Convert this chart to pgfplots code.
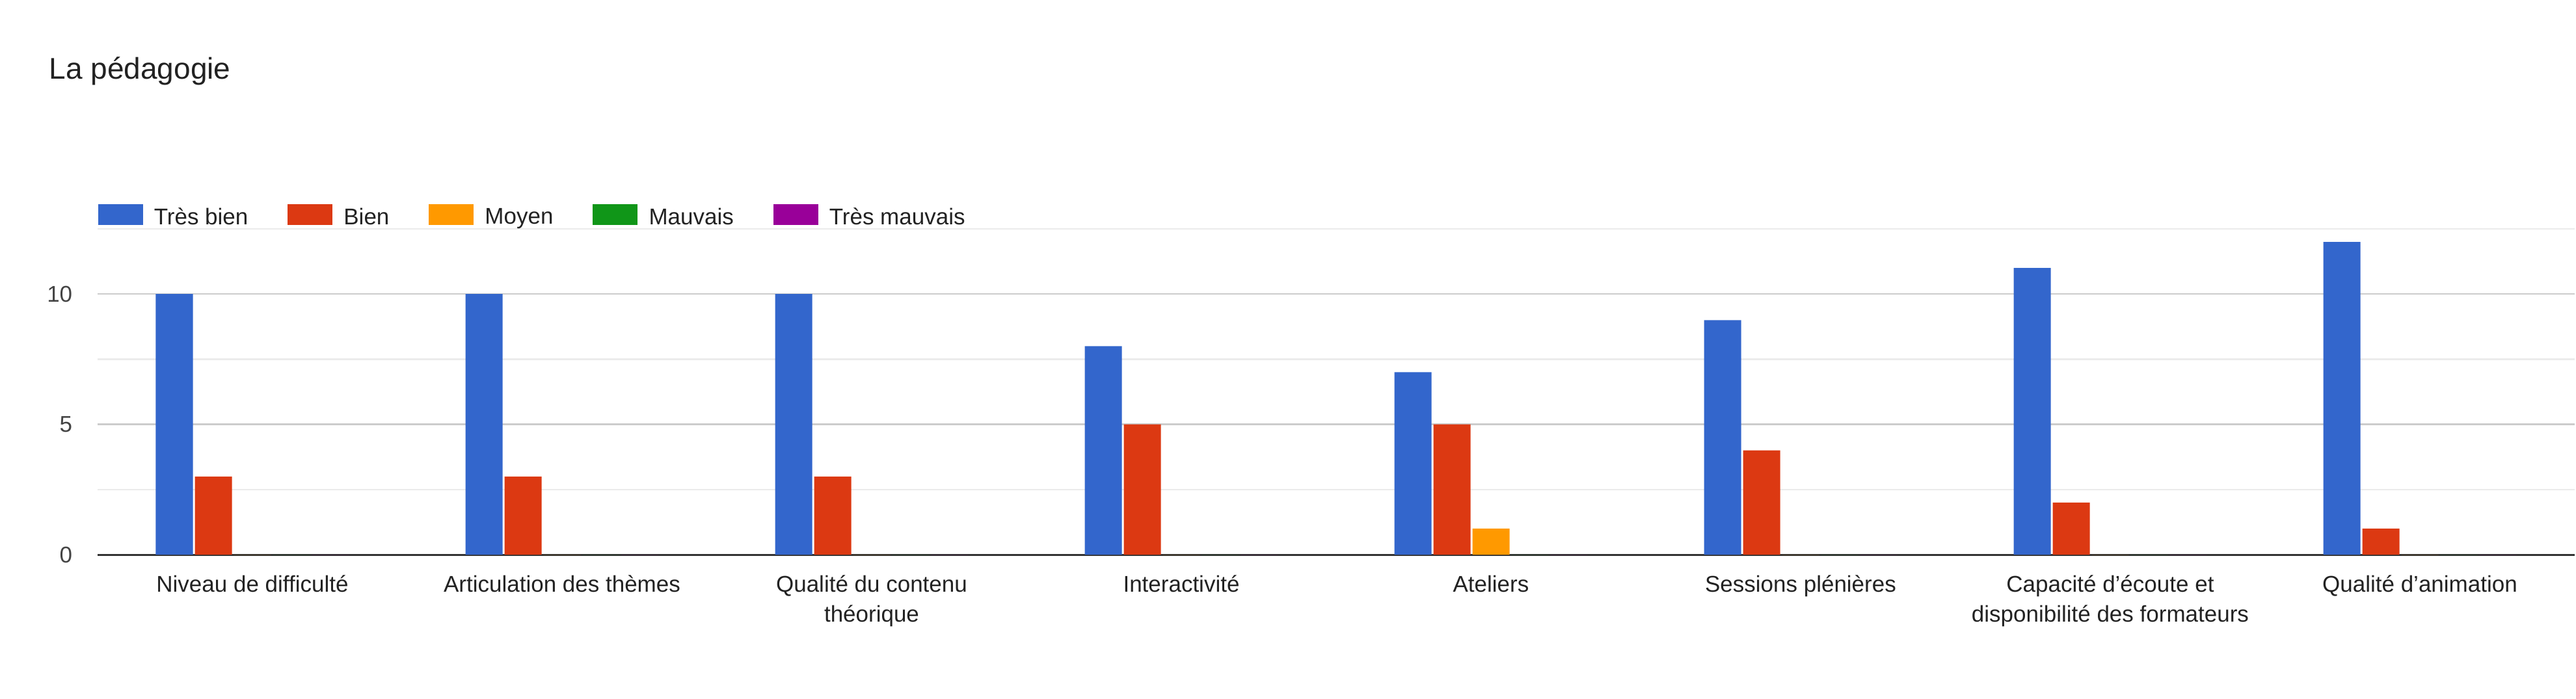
\documentclass[border=0pt]{standalone}
\usepackage{fontspec}
\setmainfont{Liberation Sans}
\usepackage{pgfplots}
\usepackage{pgfplotstable}
\pgfplotsset{compat=1.18}

\definecolor{c1}{HTML}{3366CC}
\definecolor{c2}{HTML}{DC3912}
\definecolor{c3}{HTML}{FF9900}
\definecolor{c4}{HTML}{109618}
\definecolor{c5}{HTML}{990099}
\definecolor{gridmaj}{HTML}{CCCCCC}
\definecolor{gridmin}{HTML}{EBEBEB}
\definecolor{axisc}{HTML}{333333}
\definecolor{txt}{HTML}{222222}
\definecolor{ticktxt}{HTML}{444444}

% x: categorie, tb = Tres bien, b = Bien, m = Moyen, mv = Mauvais, tm = Tres mauvais
\pgfplotstableread{
x tb b m mv tm
0 10 3 0 0 0
1 10 3 0 0 0
2 10 3 0 0 0
3 8  5 0 0 0
4 7  5 1 0 0
5 9  4 0 0 0
6 11 2 0 0 0
7 12 1 0 0 0
}\data

\pgfplotsset{legbox/.style={legend image code/.code={\fill[##1] (0pt,-2.75pt) rectangle (17.25pt,5.25pt);}}}

\begin{document}
\begin{tikzpicture}
\useasboundingbox (0,0) rectangle (990pt,268.5pt);
\node[anchor=base west, inner sep=0pt, text=txt, font=\fontsize{11.5}{13}\selectfont] at (18.75pt,238.25pt) {La pédagogie};
\begin{axis}[
    at={(37.5pt,55.25pt)}, anchor=south west,
    scale only axis, width=952pt, height=125.25pt,
    xmin=-0.5, xmax=7.5, ymin=0, ymax=12.5,
    ybar=0.75pt, bar width=14.25pt,
    xtick={0,...,7},
    xticklabels={{Niveau de difficulté},{Articulation des thèmes},{Qualité du contenu\\théorique},{Interactivité},{Ateliers},{Sessions plénières},{Capacité d’écoute et\\disponibilité des formateurs},{Qualité d’animation}},
    ytick={0,5,10}, minor ytick={2.5,7.5,12.5},
    ymajorgrids, yminorgrids,
    major grid style={draw=gridmaj, line width=0.6pt},
    minor grid style={draw=gridmin, line width=0.6pt},
    axis x line*=bottom, axis y line*=left,
    x axis line style={-, draw=axisc, line width=0.75pt},
    y axis line style={draw=none},
    tick style={draw=none},
    /pgf/number format/assume math mode=true,
    xticklabel style={anchor=north, inner sep=0pt, yshift=-3.5pt, align=center, text=txt, font=\fontsize{8.75}{11.5}\selectfont},
    yticklabel style={anchor=east, inner sep=0pt, xshift=-9.5pt, text=ticktxt, font=\fontsize{8.75}{10.5}\selectfont},
    legend columns=5,
    legend style={at={(0,1)}, anchor=south west, draw=none, fill=none, inner sep=0pt,
        font=\fontsize{8.75}{10.5}\selectfont, text=txt,
        nodes={inner sep=0pt},
        /tikz/every odd column/.append style={column sep=4.25pt},
        /tikz/every even column/.append style={column sep=15.25pt}},
]
\addplot[fill=c1, draw=none, legbox] table[x=x, y=tb] {\data};
\addplot[fill=c2, draw=none, legbox] table[x=x, y=b] {\data};
\addplot[fill=c3, draw=none, legbox] table[x=x, y=m] {\data};
\addplot[fill=c4, draw=none, legbox] table[x=x, y=mv] {\data};
\addplot[fill=c5, draw=none, legbox] table[x=x, y=tm] {\data};
\legend{Très bien, Bien, Moyen, Mauvais, Très mauvais}
\end{axis}
\end{tikzpicture}
\end{document}
